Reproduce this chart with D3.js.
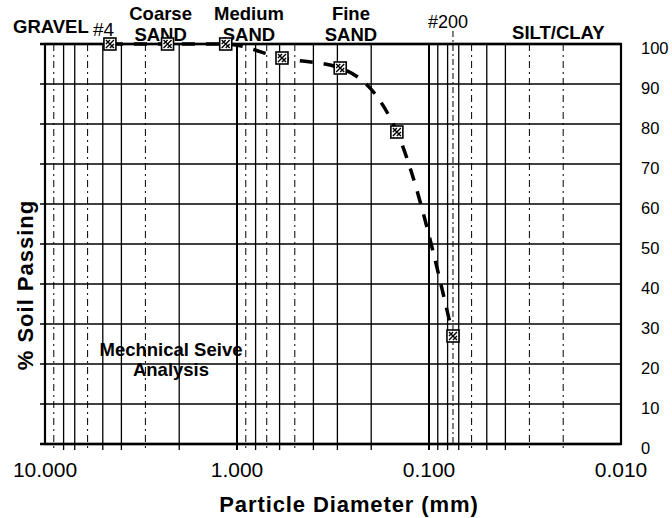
<!DOCTYPE html>
<html>
<head>
<meta charset="utf-8">
<script src="https://cdn.jsdelivr.net/npm/d3@7"></script>
<style>
  html, body { margin: 0; padding: 0; background: #fff; }
  svg { display: block; }
  text { font-family: "Liberation Sans", Arial, Helvetica, sans-serif; fill: #000; }
</style>
</head>
<body>
<svg id="chart" width="672" height="518"></svg>
<script>
// ---- data ----
const sieveSizes = [4.59, 2.30, 1.145, 0.583, 0.29, 0.147, 0.075];   // particle diameter (mm)
const percentPassing = [100, 100, 100, 96.5, 94, 78, 27];           // % soil passing
const yTicks = [0, 10, 20, 30, 40, 50, 60, 70, 80, 90, 100];
const xTickValues = [10, 1, 0.1, 0.01];
const xTickLabels = ["10.000", "1.000", "0.100", "0.010"];
const dashedGrid = [9, 6, 3, 0.9, 0.7, 0.5, 0.06, 0.03, 0.02];
const sieve200 = 0.075;
const sandLabels = [
  { lines: ["Coarse", "SAND"], at: 2.5 },
  { lines: ["Medium", "SAND"], at: 0.866 },
  { lines: ["Fine", "SAND"], at: 0.255 }
];
const siltLabel = { text: "SILT/CLAY", at: 0.0212 };

// ---- layout ----
const svg = d3.select("#chart");
const x = d3.scaleLog().domain([10, 0.01]).range([45, 621]);
const y = d3.scaleLinear().domain([0, 100]).range([444, 44]);

const grid = svg.append("g");

// vertical log gridlines
const vTicks = x.ticks().filter(v => v < 10 && v > 0.01);
vTicks.forEach(v => {
  const isMajor = Math.abs(Math.log10(v) - Math.round(Math.log10(v))) < 1e-9;
  const dashed = dashedGrid.some(d => Math.abs(d - v) < 1e-9);
  grid.append("line")
    .attr("x1", x(v)).attr("x2", x(v))
    .attr("y1", y(100)).attr("y2", y(0) + 6)
    .attr("stroke", "#000")
    .attr("stroke-width", isMajor ? 2 : (dashed ? 1 : 1.3))
    .attr("stroke-dasharray", dashed ? "7,4,2,4" : null);
});

// #200 sieve line
grid.append("line")
  .attr("x1", x(sieve200)).attr("x2", x(sieve200))
  .attr("y1", 31).attr("y2", y(0))
  .attr("stroke", "#000").attr("stroke-width", 1)
  .attr("stroke-dasharray", "6,3,2,3");

// horizontal gridlines
yTicks.forEach(t => {
  grid.append("line")
    .attr("x1", 40).attr("x2", x(0.01))
    .attr("y1", y(t)).attr("y2", y(t))
    .attr("stroke", "#000")
    .attr("stroke-width", (t === 0 || t === 100) ? 2.5 : 1.6);
});

// frame
svg.append("rect")
  .attr("x", x(10)).attr("y", y(100))
  .attr("width", x(0.01) - x(10)).attr("height", y(0) - y(100))
  .attr("fill", "none").attr("stroke", "#000").attr("stroke-width", 2.2);

// right axis labels
svg.append("g").selectAll("text").data(yTicks).join("text")
  .attr("x", 641).attr("y", d => y(d) + 10)
  .attr("font-size", 16.5)
  .text(d => d);

// bottom axis labels
svg.append("g").selectAll("text").data(xTickValues).join("text")
  .attr("x", d => x(d)).attr("y", 477)
  .attr("text-anchor", "middle")
  .attr("font-size", 21)
  .text((d, i) => xTickLabels[i]);

// top labels
sandLabels.forEach(l => {
  const cx = x(l.at);
  svg.append("text").attr("x", cx).attr("y", 20).attr("text-anchor", "middle")
    .attr("font-size", 18.5).attr("font-weight", "bold").text(l.lines[0]);
  svg.append("text").attr("x", cx).attr("y", 41).attr("text-anchor", "middle")
    .attr("font-size", 18.5).attr("font-weight", "bold").text(l.lines[1]);
});
svg.append("text").attr("x", 13).attr("y", 33).attr("font-size", 18.5)
  .attr("font-weight", "bold").text("GRAVEL");
svg.append("text").attr("x", 93).attr("y", 36).attr("font-size", 19)
  .text("#4");
svg.append("text").attr("x", x(siltLabel.at)).attr("y", 39).attr("text-anchor", "middle")
  .attr("font-size", 18.5).attr("font-weight", "bold").text(siltLabel.text);
svg.append("text").attr("x", x(sieve200) - 5).attr("y", 28).attr("text-anchor", "middle")
  .attr("font-size", 18).text("#200");

// annotation
svg.append("text").attr("x", 171).attr("y", 356).attr("text-anchor", "middle")
  .attr("font-size", 18.5).attr("font-weight", "bold").text("Mechnical Seive");
svg.append("text").attr("x", 171).attr("y", 376).attr("text-anchor", "middle")
  .attr("font-size", 18.5).attr("font-weight", "bold").text("Analysis");

// axis titles
svg.append("text").attr("x", 349).attr("y", 512).attr("text-anchor", "middle")
  .attr("font-size", 22).attr("font-weight", "bold").attr("letter-spacing", 0.9)
  .text("Particle Diameter (mm)");
svg.append("text").attr("transform", "translate(33,285) rotate(-90)")
  .attr("text-anchor", "middle")
  .attr("font-size", 22).attr("font-weight", "bold").attr("letter-spacing", 1)
  .text("% Soil Passing");

// data curve
const pts = sieveSizes.map((s, i) => [x(s), y(percentPassing[i])]);
svg.append("path")
  .attr("d", d3.line().curve(d3.curveMonotoneX)(pts))
  .attr("fill", "none").attr("stroke", "#000").attr("stroke-width", 3.5)
  .attr("stroke-dasharray", "13,11");

// markers
const mk = svg.append("g").selectAll("g").data(pts).join("g")
  .attr("transform", d => `translate(${d[0]},${d[1]})`);
mk.append("rect").attr("x", -6).attr("y", -6).attr("width", 12).attr("height", 12)
  .attr("fill", "#fff").attr("stroke", "#000").attr("stroke-width", 1.6);
mk.append("path").attr("d", "M-4,-4L4,4M4,-4L-4,4M-4,0L0,-4M0,4L4,0")
  .attr("stroke", "#000").attr("stroke-width", 1.4).attr("fill", "none");
</script>
</body>
</html>
